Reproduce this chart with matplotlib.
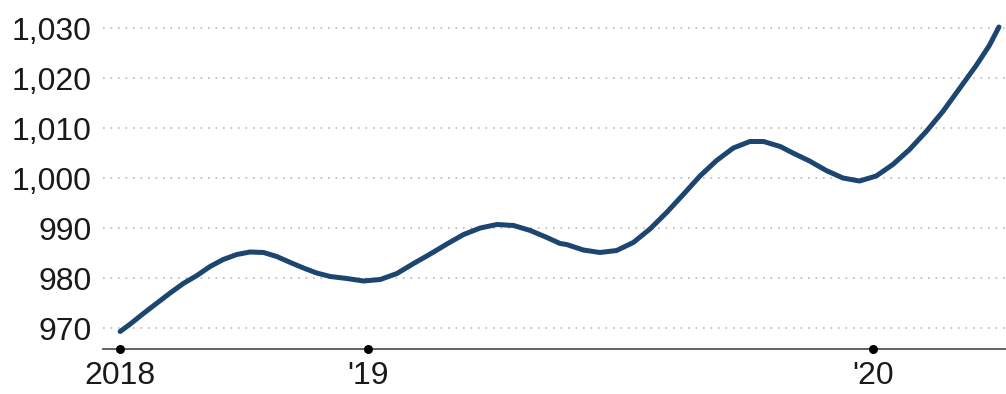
import matplotlib
matplotlib.use("Agg")
import matplotlib.pyplot as plt

# series, in fractional years
years = [2018.509, 2018.529, 2018.555, 2018.582, 2018.608, 2018.634, 2018.661,
         2018.687, 2018.713, 2018.740, 2018.766, 2018.793, 2018.819, 2018.846,
         2018.872, 2018.898, 2018.925, 2018.958, 2018.991, 2019.024, 2019.057,
         2019.090, 2019.123, 2019.156, 2019.189, 2019.222, 2019.255, 2019.288,
         2019.321, 2019.354, 2019.380, 2019.393, 2019.426, 2019.459, 2019.492,
         2019.525, 2019.558, 2019.591, 2019.624, 2019.657, 2019.690, 2019.723,
         2019.756, 2019.783, 2019.816, 2019.841, 2019.874, 2019.907, 2019.940,
         2019.973, 2020.006, 2020.039, 2020.072, 2020.105, 2020.138, 2020.171,
         2020.204, 2020.230, 2020.249]
values = [969.3, 970.8, 972.9, 975.0, 977.0, 978.9, 980.5,
          982.3, 983.7, 984.7, 985.2, 985.1, 984.3, 983.1,
          982.0, 981.0, 980.3, 979.9, 979.4, 979.7, 980.9,
          982.9, 984.8, 986.8, 988.7, 990.0, 990.7, 990.5,
          989.5, 988.1, 986.9, 986.7, 985.6, 985.1, 985.5,
          987.1, 989.8, 993.1, 996.7, 1000.4, 1003.5, 1006.0,
          1007.3, 1007.3, 1006.3, 1005.0, 1003.4, 1001.5, 1000.0,
          999.4, 1000.4, 1002.7, 1005.7, 1009.3, 1013.3, 1017.9,
          1022.5, 1026.5, 1030.2]

x_ticks = [2018.509, 2019.0, 2020.0]
x_labels = ["2018", "'19", "'20"]
y_ticks = [970, 980, 990, 1000, 1010, 1020, 1030]

plt.rcParams["font.family"] = ["Liberation Sans", "DejaVu Sans"]

fig = plt.figure(figsize=(10.06, 3.94), dpi=100)
ax = fig.add_axes([103 / 1006, 45 / 394, 903 / 1006, 336 / 394])

ax.plot(years, values, color="#1c4670", lw=3.6, solid_capstyle="round",
        solid_joinstyle="round", zorder=3)

ax.set_xlim(2018.475, 2020.263)
ax.set_ylim(965.8, 1033)

ax.set_yticks(y_ticks)
ax.set_yticklabels([f"{v:,}" for v in y_ticks])
ax.set_xticks(x_ticks)
ax.set_xticklabels(x_labels)
ax.tick_params(axis="both", length=0, labelsize=23, colors="#1a1a1a")
ax.tick_params(axis="y", pad=8)
ax.tick_params(axis="x", pad=9)

ax.grid(axis="y", color="#b8b8b8", lw=1.2, linestyle=(0, (1, 3.5)))
ax.grid(axis="x", visible=False)

for side in ["top", "right", "left"]:
    ax.spines[side].set_visible(False)
ax.spines["bottom"].set_color("#555555")
ax.spines["bottom"].set_linewidth(1.3)

# dot tick marks on the baseline
ax.scatter(x_ticks, [ax.get_ylim()[0]] * len(x_ticks), s=30, color="black",
           zorder=4, clip_on=False)

fig.savefig("out.png", dpi=100)
